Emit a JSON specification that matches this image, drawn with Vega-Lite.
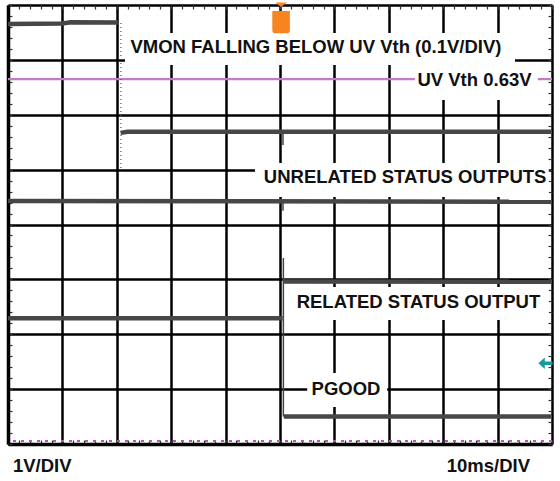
{
  "$schema": "https://vega.github.io/schema/vega-lite/v6.json",
  "width": 544,
  "height": 439,
  "autosize": {"type": "none"},
  "padding": {"left": 8, "top": 5, "right": 8, "bottom": 37},
  "background": "white",
  "view": {"stroke": null},
  "config": {"text": {"font": "Liberation Sans", "fontWeight": "bold", "fontSize": 18.5, "color": "#111111"}},
  "datasets": {
    "traces": [
      {"s": "VMON high", "t": 0, "v": 7.655},
      {"s": "VMON high", "t": 10, "v": 7.665},
      {"s": "VMON high", "t": 11.5, "v": 7.685},
      {"s": "VMON high", "t": 20.2, "v": 7.68},
      {"s": "VMON low", "t": 20.7, "v": 5.67},
      {"s": "VMON low", "t": 22, "v": 5.69},
      {"s": "VMON low", "t": 100, "v": 5.69},
      {"s": "UNRELATED", "t": 0, "v": 4.43},
      {"s": "UNRELATED", "t": 100, "v": 4.415},
      {"s": "RELATED low", "t": 0, "v": 2.29},
      {"s": "RELATED low", "t": 50.5, "v": 2.29},
      {"s": "RELATED high", "t": 50.7, "v": 2.96},
      {"s": "RELATED high", "t": 100, "v": 2.955},
      {"s": "PGOOD low", "t": 50.7, "v": 0.5},
      {"s": "PGOOD low", "t": 100, "v": 0.5}
    ],
    "spikes": [
      {"t": 50.55, "v": 5.69, "v2": 5.45},
      {"t": 50.55, "v": 4.43, "v2": 4.25},
      {"t": 50.62, "v": 2.29, "v2": 3.39},
      {"t": 50.62, "v": 2.29, "v2": 0.5}
    ],
    "edge": [{"t": 20.75, "v": 7.67, "v2": 4.95}],
    "boxes": [
      {"x1": 21.5, "x2": 93.2, "y1": 7.49, "y2": 6.907},
      {"x1": 74.8, "x2": 97.4, "y1": 6.95, "y2": 6.269},
      {"x1": 45.4, "x2": 99.4, "y1": 5.121, "y2": 4.501},
      {"x1": 51.3, "x2": 99.4, "y1": 2.861, "y2": 2.26},
      {"x1": 55.0, "x2": 69.7, "y1": 1.294, "y2": 0.674}
    ],
    "labels": [
      {"label": "VMON FALLING BELOW UV Vth (0.1V/DIV)", "t": 56.6, "v": 7.23},
      {"label": "UV Vth 0.63V", "t": 85.75, "v": 6.63},
      {"label": "UNRELATED STATUS OUTPUTS", "t": 73.0, "v": 4.86},
      {"label": "RELATED STATUS OUTPUT", "t": 75.45, "v": 2.58},
      {"label": "PGOOD", "t": 62.13, "v": 1.01}
    ],
    "footer": [
      {"label": "1V/DIV", "t": 6.3, "v": -0.41},
      {"label": "10ms/DIV", "t": 88.3, "v": -0.41}
    ],
    "trigger": [{"t": 50.2, "v": 7.765}],
    "level": [{"t": 98.8, "v": 1.471}]
  },
  "resolve": {"axis": {"x": "independent", "y": "independent"}},
  "layer": [
    {
      "data": {"name": "trigger"},
      "mark": {"type": "rule", "color": "#c27bc7", "strokeWidth": 2.2},
      "encoding": {
        "y": {"datum": 6.651, "type": "quantitative", "scale": {"domain": [0, 8], "nice": false, "zero": false}, "axis": null}
      }
    },
    {
      "data": {"name": "trigger"},
      "mark": {"type": "rule", "color": "#c94bc9", "strokeWidth": 2, "strokeDash": [3, 5]},
      "encoding": {
        "y": {"datum": 0.055, "type": "quantitative", "axis": null}
      }
    },
    {
      "data": {"name": "boxes"},
      "mark": {"type": "rect", "fill": "white"},
      "encoding": {
        "x": {"field": "x1", "type": "quantitative", "axis": null},
        "x2": {"field": "x2"},
        "y": {"field": "y1", "type": "quantitative", "axis": null},
        "y2": {"field": "y2"}
      }
    },
    {
      "data": {"name": "spikes"},
      "mark": {"type": "rule", "color": "#444444", "strokeWidth": 1.5},
      "encoding": {
        "x": {"field": "t", "type": "quantitative", "axis": null},
        "y": {"field": "v", "type": "quantitative", "axis": null},
        "y2": {"field": "v2"}
      }
    },
    {
      "data": {"name": "traces"},
      "mark": {"type": "line", "color": "#474747", "strokeWidth": 4.5, "strokeCap": "butt"},
      "encoding": {
        "x": {
          "field": "t", "type": "quantitative",
          "scale": {"domain": [0, 100], "nice": false, "zero": false},
          "axis": {
            "orient": "top", "title": null, "labels": false, "domain": false,
            "values": [0,2,4,6,8,10,12,14,16,18,20,22,24,26,28,30,32,34,36,38,40,42,44,46,48,50,52,54,56,58,60,62,64,66,68,70,72,74,76,78,80,82,84,86,88,90,92,94,96,98,100],
            "grid": true, "gridColor": "black", "gridWidth": 2.5,
            "gridOpacity": {"condition": {"test": "datum.value % 10 === 0", "value": 1}, "value": 0},
            "ticks": true, "tickSize": -4, "tickColor": "#333333", "tickWidth": 1.2
          }
        },
        "y": {
          "field": "v", "type": "quantitative",
          "scale": {"domain": [0, 8], "nice": false, "zero": false},
          "axis": {
            "orient": "left", "title": null, "labels": false,
            "domain": true, "domainColor": "black", "domainWidth": 3.5,
            "values": [0,0.2,0.4,0.6,0.8,1,1.2,1.4,1.6,1.8,2,2.2,2.4,2.6,2.8,3,3.2,3.4,3.6,3.8,4,4.2,4.4,4.6,4.8,5,5.2,5.4,5.6,5.8,6,6.2,6.4,6.6,6.8,7,7.2,7.4,7.6,7.8,8],
            "grid": true, "gridColor": "black", "gridWidth": 2.5,
            "gridOpacity": {"condition": {"test": "datum.value % 1 === 0", "value": 1}, "value": 0},
            "ticks": true, "tickSize": -4, "tickColor": "#333333", "tickWidth": 1.2
          }
        },
        "detail": {"field": "s"}
      }
    },
    {
      "data": {"name": "edge"},
      "mark": {"type": "rule", "color": "#555555", "strokeWidth": 1.2, "strokeDash": [1, 3]},
      "encoding": {
        "x": {"field": "t", "type": "quantitative", "axis": null},
        "y": {"field": "v", "type": "quantitative", "axis": null},
        "y2": {"field": "v2"}
      }
    },
    {
      "data": {"name": "labels"},
      "mark": {"type": "text", "align": "center", "baseline": "middle"},
      "encoding": {
        "x": {
          "field": "t", "type": "quantitative",
          "axis": {
            "orient": "bottom", "title": null, "labels": false,
            "domain": true, "domainColor": "black", "domainWidth": 3.5,
            "values": [0,2,4,6,8,10,12,14,16,18,20,22,24,26,28,30,32,34,36,38,40,42,44,46,48,50,52,54,56,58,60,62,64,66,68,70,72,74,76,78,80,82,84,86,88,90,92,94,96,98,100],
            "grid": false, "ticks": true, "tickSize": -4, "tickColor": "#333333", "tickWidth": 1.2
          }
        },
        "y": {
          "field": "v", "type": "quantitative",
          "axis": {
            "orient": "right", "title": null, "labels": false, "domain": false,
            "values": [0,0.2,0.4,0.6,0.8,1,1.2,1.4,1.6,1.8,2,2.2,2.4,2.6,2.8,3,3.2,3.4,3.6,3.8,4,4.2,4.4,4.6,4.8,5,5.2,5.4,5.6,5.8,6,6.2,6.4,6.6,6.8,7,7.2,7.4,7.6,7.8,8],
            "grid": false, "ticks": true, "tickSize": -4, "tickColor": "#333333", "tickWidth": 1.2
          }
        },
        "text": {"field": "label"}
      }
    },
    {
      "data": {"name": "footer"},
      "mark": {"type": "text", "align": "center", "baseline": "middle"},
      "encoding": {
        "x": {"field": "t", "type": "quantitative", "axis": null},
        "y": {"field": "v", "type": "quantitative", "axis": null},
        "text": {"field": "label"}
      }
    },
    {
      "data": {"name": "trigger"},
      "mark": {
        "type": "point", "filled": true, "color": "#f7841e", "opacity": 1, "size": 950,
        "shape": "M-0.38,-1 L0.38,-1 L0,-0.7 Z M-0.57,-0.45 L0.57,-0.45 L0.57,0.8 Q0.57,1 0.37,1 L-0.37,1 Q-0.57,1 -0.57,0.8 Z"
      },
      "encoding": {
        "x": {"field": "t", "type": "quantitative", "axis": null},
        "y": {"field": "v", "type": "quantitative", "axis": null}
      }
    },
    {
      "data": {"name": "level"},
      "mark": {
        "type": "point", "filled": true, "color": "#169b9b", "opacity": 1, "size": 200,
        "shape": "M-1,0 L-0.1,-0.8 L-0.1,-0.25 L1,-0.25 L1,0.25 L-0.1,0.25 L-0.1,0.8 Z"
      },
      "encoding": {
        "x": {"field": "t", "type": "quantitative", "axis": null},
        "y": {"field": "v", "type": "quantitative", "axis": null}
      }
    }
  ]
}
